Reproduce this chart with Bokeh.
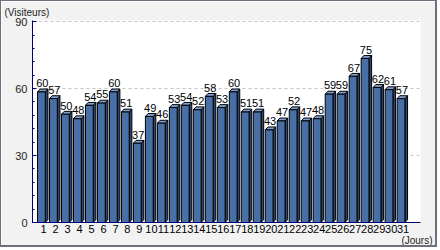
from bokeh.plotting import figure
from bokeh.models import Range1d, FixedTicker, SingleIntervalTicker, Title, ColumnDataSource
from bokeh.core.properties import value
from bokeh.embed import file_html
from bokeh.resources import INLINE

days = list(range(1, 32))
day_labels = [str(d) for d in days]
visitors = [60, 57, 50, 48, 54, 55, 60, 51, 37, 49, 46, 53, 54, 52, 58, 53,
            60, 51, 51, 43, 47, 52, 47, 48, 59, 59, 67, 75, 62, 61, 57]
y_ticks = [0, 30, 60, 90]

FONT = "Liberation Sans"

p = figure(width=437, height=247, output_backend="svg", toolbar_location=None,
           x_range=Range1d(0.08, 32.45), y_range=Range1d(0, 90.5),
           min_border_left=31, min_border_right=18, min_border_top=19, min_border_bottom=26)
p.styles = {"border-style": "solid", "border-color": "#6e6e7c",
            "border-width": "1px 2px 2px 1px"}
p.background_fill_color = "white"
p.border_fill_color = "#f2f2f2"
p.outline_line_color = None

# 3D bar geometry (style offsets)
fl, fr = -0.5, 0.15      # front face left/right offset from category
dx, dy = 0.22, 1.3       # depth offset in data units
drop = 1.5               # front top below value

xs_top, ys_top, xs_side, ys_side = [], [], [], []
lefts, rights, tops = [], [], []
for d, v in zip(days, visitors):
    x0, x1 = d + fl, d + fr
    ft = v - drop
    lefts.append(x0); rights.append(x1); tops.append(ft)
    xs_top.append([x0, x1, x1 + dx, x0 + dx])
    ys_top.append([ft, ft, ft + dy, ft + dy])
    xs_side.append([x1, x1 + dx, x1 + dx, x1])
    ys_side.append([0, dy, ft + dy, ft])

p.patches(xs_side, ys_side, fill_color="#2c4670", line_color="black", line_width=1)
p.patches(xs_top, ys_top, fill_color="#7f9fd2", line_color="black", line_width=1)
p.quad(left=lefts, right=rights, bottom=0, top=tops,
       fill_color="#4870a6", line_color="black", line_width=1)

src = ColumnDataSource(dict(x=[d - 0.1 for d in days], y=[v + 0.6 for v in visitors],
                            t=[str(v) for v in visitors]))
p.text(x="x", y="y", text="t", source=src, text_align="center", text_baseline="bottom",
       text_font=value(FONT), text_font_size="11px", text_color="black")

# axes
p.xaxis.ticker = FixedTicker(ticks=days)
p.xaxis.major_label_overrides = {d: s for d, s in zip(days, day_labels)}
p.xaxis.axis_line_color = "#000070"
p.xaxis.major_tick_line_color = None
p.xaxis.minor_tick_line_color = None
p.xaxis.major_tick_out = 0
p.xaxis.major_tick_in = 0
p.xaxis.major_label_standoff = 2
p.xaxis.major_label_text_font = FONT
p.xaxis.major_label_text_font_size = "11px"
p.xaxis.major_label_text_color = "black"

p.yaxis.ticker = SingleIntervalTicker(interval=30, num_minor_ticks=5)
p.yaxis.axis_line_color = "#000070"
p.yaxis.major_tick_line_color = "#000070"
p.yaxis.minor_tick_line_color = "#000070"
p.yaxis.major_tick_in = 4
p.yaxis.major_tick_out = 0
p.yaxis.minor_tick_in = 2
p.yaxis.minor_tick_out = 0
p.yaxis.major_label_standoff = 5
p.yaxis.major_label_text_font = FONT
p.yaxis.major_label_text_font_size = "11px"
p.yaxis.major_label_text_color = "#222222"

p.xgrid.grid_line_color = None
p.ygrid.ticker = FixedTicker(ticks=y_ticks)
p.ygrid.grid_line_color = "#c4c4c4"
p.ygrid.grid_line_dash = "3 3"

p.title.text = "(Visiteurs)"
p.title.align = "left"
p.title.offset = -28
p.title.standoff = 5
p.title.text_font = FONT
p.title.text_font_size = "10px"
p.title.text_font_style = "normal"
p.title.text_color = "#222222"

p.add_layout(Title(text="(Jours)", align="right", offset=-12, standoff=-5,
                   text_font=FONT, text_font_size="10px", text_font_style="normal",
                   text_color="#222222"), "below")

open("out.html", "w").write(file_html(p, INLINE))
